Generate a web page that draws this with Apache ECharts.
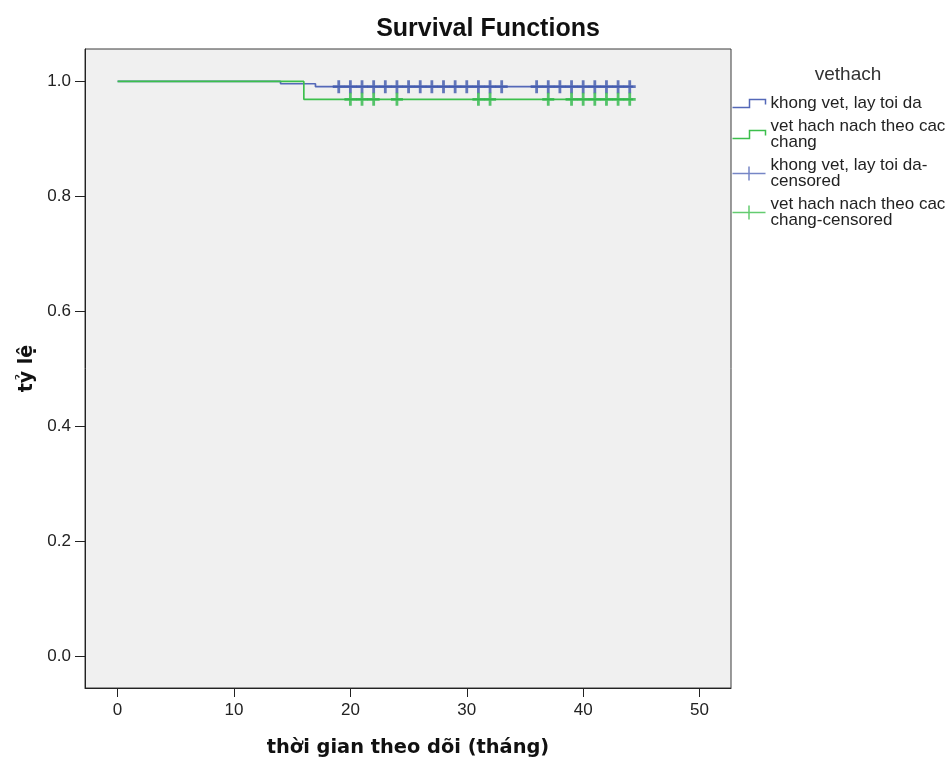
<!DOCTYPE html>
<html>
<head>
<meta charset="utf-8">
<script src="https://cdn.jsdelivr.net/npm/echarts@6/dist/echarts.min.js"></script>
<style>
html,body{margin:0;padding:0;background:#fff;}
#chart{width:949px;height:762px;}
</style>
</head>
<body>
<div id="chart"></div>
<script>
// ---- data ----
const xTicks = [0, 10, 20, 30, 40, 50];
const yTicks = [0, 0.2, 0.4, 0.6, 0.8, 1.0];

const blueName = 'khong vet, lay toi da';
const greenName = 'vet hach nach theo cac chang';
const blueCensName = 'khong vet, lay toi da-censored';
const greenCensName = 'vet hach nach theo cac chang-censored';

// Kaplan-Meier step curves (time, survival)
const blueTimes = [0, 14, 17, 44.3];
const blueSurv  = [1, 0.996, 0.991, 0.991];
const greenTimes = [0, 16, 44.3];
const greenSurv  = [1, 0.969, 0.969];

// censored observation times
const blueCensTimes = [19, 20, 21, 22, 23, 24, 25, 26, 27, 28, 29, 30, 31, 32, 33, 36, 37, 38, 39, 40, 41, 42, 43, 44];
const greenCensTimes = [20, 21, 22, 24, 31, 32, 37, 39, 40, 41, 42, 43, 44];

const BLUE = '#3E58AC';
const GREEN = '#2EB848';
const BLUE_LINE = '#5468b8';
const GREEN_LINE = '#3cbf4c';

function levelAt(times, surv, t) {
  let v = surv[0];
  for (let i = 0; i < times.length; i++) { if (times[i] <= t) v = surv[i]; }
  return v;
}

const blueLine = blueTimes.map((t, i) => [t, blueSurv[i]]);
const greenLine = greenTimes.map((t, i) => [t, greenSurv[i]]);
const blueCens = blueCensTimes.map(t => [t, levelAt(blueTimes, blueSurv, t)]);
const greenCens = greenCensTimes.map(t => [t, levelAt(greenTimes, greenSurv, t)]);

const plusPath = 'path://M-6,-1.4 H-1.4 V-6.5 H1.4 V-1.4 H6 V1.4 H1.4 V6.5 H-1.4 V1.4 H-6 Z';
const stepIcon = 'path://M0,8 L17,8 L17,0 L33,0 L33,5';
const censIcon = 'path://M0,7 L33,7 M16.5,0 L16.5,14';

const legendLabels = {};
legendLabels[blueName] = 'khong vet, lay toi da';
legendLabels[greenName] = 'vet hach nach theo cac\nchang';
legendLabels[blueCensName] = 'khong vet, lay toi da-\ncensored';
legendLabels[greenCensName] = 'vet hach nach theo cac\nchang-censored';

const chart = echarts.init(document.getElementById('chart'));
chart.setOption({
  animation: false,
  backgroundColor: '#ffffff',
  title: [{
    text: 'Survival Functions',
    left: 483, top: 12, textAlign: 'center',
    textStyle: { fontFamily: 'Liberation Sans', fontWeight: 'bold', fontSize: 25, color: '#111' }
  }, {
    text: 'vethach',
    left: 843, top: 60, textAlign: 'center',
    textStyle: { fontFamily: 'Liberation Sans', fontWeight: 'normal', fontSize: 19, color: '#333' }
  }],
  grid: {
    left: 85, right: 218, top: 49, bottom: 71,
    show: true, backgroundColor: '#f0f0f0', borderColor: '#3a3a3a', borderWidth: 1
  },
  legend: {
    orient: 'vertical',
    left: 730, top: 95,
    padding: 0,
    itemWidth: 33, itemHeight: 14, itemGap: 6,
    selectedMode: false,
    formatter: name => legendLabels[name],
    textStyle: { fontFamily: 'Liberation Sans', fontSize: 17, lineHeight: 16, color: '#222' },
    data: [
      { name: blueName, icon: stepIcon, itemStyle: { color: 'none', borderColor: BLUE_LINE, borderWidth: 1.5 } },
      { name: greenName, icon: stepIcon, itemStyle: { color: 'none', borderColor: GREEN_LINE, borderWidth: 1.5 } },
      { name: blueCensName, icon: censIcon, itemStyle: { color: 'none', borderColor: BLUE_LINE, borderWidth: 1.5 } },
      { name: greenCensName, icon: censIcon, itemStyle: { color: 'none', borderColor: GREEN_LINE, borderWidth: 1.5 } }
    ]
  },
  xAxis: {
    type: 'value', min: -2.8, max: 52.7,
    name: 'thời gian theo dõi (tháng)', nameLocation: 'middle', nameGap: 50,
    nameTextStyle: { fontFamily: 'DejaVu Sans', fontWeight: 'bold', fontSize: 19.4, color: '#111' },
    axisLine: { show: true, onZero: false, lineStyle: { color: '#222', width: 1 } },
    axisTick: { show: true, length: 9, customValues: xTicks, lineStyle: { color: '#222' } },
    axisLabel: { customValues: xTicks, margin: 14, fontFamily: 'Liberation Sans', fontSize: 17, color: '#222' },
    splitLine: { show: false }
  },
  yAxis: {
    type: 'value', min: -0.0555, max: 1.0565,
    name: 'tỷ lệ', nameLocation: 'middle', nameGap: 44,
    nameTextStyle: { fontFamily: 'DejaVu Sans', fontWeight: 'bold', fontSize: 19, color: '#111' },
    axisLine: { show: true, onZero: false, lineStyle: { color: '#222', width: 1 } },
    axisTick: { show: true, length: 10, customValues: yTicks, lineStyle: { color: '#222' } },
    axisLabel: { customValues: yTicks, margin: 14, fontFamily: 'Liberation Sans', fontSize: 17, color: '#222',
      formatter: v => v.toFixed(1) },
    splitLine: { show: false }
  },
  series: [
    { name: blueName, type: 'line', step: 'end', data: blueLine, showSymbol: false,
      lineStyle: { color: BLUE_LINE, width: 1.7 }, itemStyle: { color: BLUE_LINE }, z: 2 },
    { name: greenName, type: 'line', step: 'end', data: greenLine, showSymbol: false,
      lineStyle: { color: GREEN_LINE, width: 1.7 }, itemStyle: { color: GREEN_LINE }, z: 3 },
    { name: blueCensName, type: 'scatter', data: blueCens, symbol: plusPath, symbolSize: [12, 13],
      itemStyle: { color: BLUE }, z: 4 },
    { name: greenCensName, type: 'scatter', data: greenCens, symbol: plusPath, symbolSize: [12, 13],
      itemStyle: { color: GREEN }, z: 4 }
  ]
});
</script>
</body>
</html>
